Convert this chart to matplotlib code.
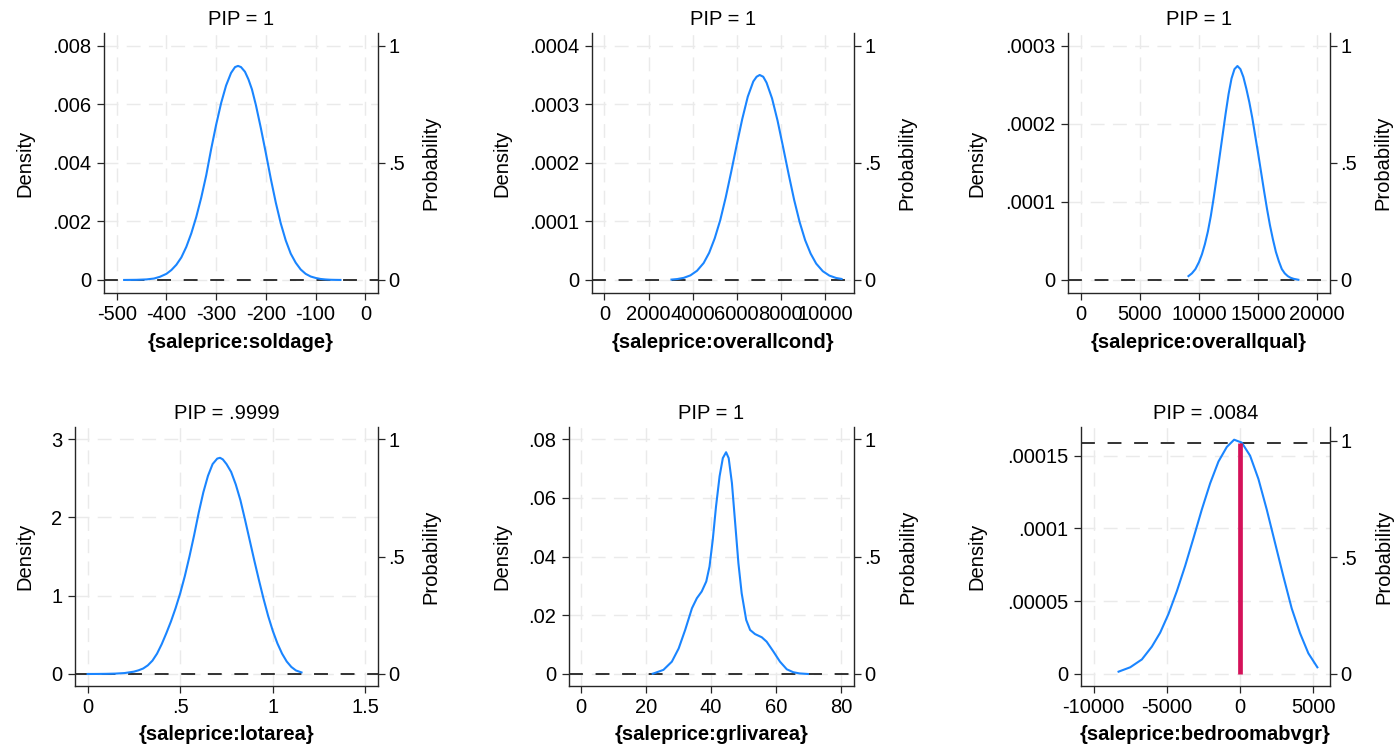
import matplotlib
matplotlib.use("Agg")
import matplotlib.pyplot as plt

plt.rcParams['font.family'] = ['Liberation Sans', 'DejaVu Sans']

W, H = 1394, 749

# ---- data ----
terms = ["soldage", "overallcond", "overallqual", "lotarea", "grlivarea", "bedroomabvgr"]
pip_labels = ["1", "1", "1", ".9999", "1", ".0084"]
pips = [1.0, 1.0, 1.0, 0.9999, 1.0, 0.0084]

soldage_x = [-485, -460, -440, -425, -413, -400, -390, -380, -370, -360, -350, -340,
             -330, -320, -310, -300, -290, -280, -270, -262, -256, -250, -242, -235,
             -228, -220, -210, -200, -190, -180, -170, -160, -150, -140, -130, -120,
             -110, -100, -90, -80, -70, -60, -50]
soldage_d = [0.000001, 0.000006, 0.00002, 0.00005, 0.00011, 0.00021, 0.00034, 0.00052,
             0.00077, 0.00113, 0.00159, 0.00215, 0.00281, 0.00357, 0.00447, 0.0053,
             0.00604, 0.00664, 0.00707, 0.00727, 0.00731, 0.00727, 0.00711, 0.00685,
             0.00651, 0.00597, 0.00518, 0.00433, 0.00345, 0.00264, 0.00193, 0.00135,
             0.0009, 0.00059, 0.00036, 0.00021, 0.00012, 0.00007, 0.000035, 0.000018,
             0.000008, 0.000004, 0.000002]

overallcond_x = [3040, 3300, 3600, 3900, 4200, 4500, 4750, 5000, 5250, 5500, 5750, 6000,
                 6250, 6500, 6750, 6900, 7040, 7200, 7350, 7600, 7850, 8100, 8350, 8600,
                 8850, 9100, 9350, 9600, 9900, 10200, 10500, 10750]
overallcond_d = [0.0000007, 0.0000016, 0.0000037, 0.0000079, 0.0000158, 0.000029,
                 0.0000465, 0.000071, 0.000102, 0.000141, 0.000185, 0.000231, 0.000275,
                 0.000313, 0.000339, 0.000347, 0.00035, 0.000347, 0.000337, 0.00031,
                 0.000272, 0.000227, 0.000181, 0.000137, 0.000099, 0.000068, 0.000045,
                 0.000028, 0.000015, 0.0000075, 0.0000035, 0.0000018]

overallqual_x = [9110, 9400, 9700, 10000, 10250, 10500, 10750, 11000, 11250, 11500, 11750,
                 12000, 12250, 12500, 12750, 13000, 13250, 13500, 13750, 14000, 14250,
                 14500, 14750, 15000, 15250, 15500, 15750, 16000, 16250, 16500, 16750,
                 17000, 17250, 17500, 17750, 18000, 18400]
overallqual_d = [0.000005, 0.0000085, 0.000014, 0.000023, 0.000033, 0.000046, 0.000062,
                 0.000082, 0.000106, 0.000132, 0.000159, 0.000186, 0.000213, 0.000238,
                 0.000258, 0.00027, 0.000274, 0.00027, 0.00026, 0.000245, 0.000228,
                 0.000208, 0.000185, 0.000162, 0.000138, 0.000114, 0.000091, 0.00007,
                 0.000052, 0.000036, 0.000024, 0.000014, 0.0000085, 0.000005, 0.0000028,
                 0.0000015, 0.0000003]

lotarea_x = [0, 0.05, 0.1, 0.15, 0.2, 0.25, 0.275, 0.3, 0.325, 0.35, 0.375, 0.4, 0.425,
             0.45, 0.475, 0.5, 0.525, 0.55, 0.575, 0.6, 0.625, 0.65, 0.675, 0.7, 0.715,
             0.73, 0.75, 0.775, 0.8, 0.825, 0.85, 0.875, 0.9, 0.925, 0.95, 0.975, 1.0,
             1.025, 1.05, 1.075, 1.1, 1.125, 1.155]
lotarea_d = [0.0, 0.0005, 0.002, 0.005, 0.012, 0.03, 0.047, 0.07, 0.11, 0.17, 0.26, 0.38,
             0.52, 0.67, 0.84, 1.03, 1.25, 1.5, 1.77, 2.06, 2.32, 2.53, 2.68, 2.75, 2.76,
             2.74, 2.68, 2.58, 2.42, 2.22, 1.97, 1.71, 1.45, 1.2, 0.96, 0.74, 0.55, 0.39,
             0.26, 0.16, 0.09, 0.045, 0.02]

grlivarea_x = [22.0, 22.3, 25.3, 27.9, 30.0, 32.0, 34.1, 35.6, 37.1, 38.5, 39.5, 40.5,
               41.5, 42.6, 43.6, 44.6, 45.4, 46.4, 47.4, 48.4, 49.4, 50.8, 52.0, 53.5,
               55.6, 57.1, 59.2, 61.2, 63.3, 65.3, 67.2, 69.8]
grlivarea_d = [0.0001, 0.0002, 0.0014, 0.0042, 0.0087, 0.015, 0.0224, 0.0258, 0.0281,
               0.0315, 0.0366, 0.0457, 0.057, 0.0673, 0.0735, 0.0755, 0.0735, 0.065,
               0.0514, 0.0377, 0.0275, 0.0184, 0.015, 0.0136, 0.0125, 0.011, 0.0076,
               0.0042, 0.0016, 0.0006, 0.0002, 0.0]

bedroom_x = [-8295, -7500, -6705, -6023, -5455, -4886, -4318, -3750, -3182, -2614, -2045,
             -1477, -909, -409, 114, 682, 1250, 1818, 2386, 2955, 3523, 4091, 4659, 5273]
bedroom_d = [0.0000016, 0.0000046, 0.00001, 0.0000188, 0.0000284, 0.0000413, 0.0000569,
             0.0000743, 0.0000934, 0.000113, 0.000131, 0.000146, 0.000156, 0.000161,
             0.000159, 0.00015, 0.000134, 0.000113, 0.00009, 0.000067, 0.000045,
             0.000028, 0.0000142, 0.0000046]

xs = [soldage_x, overallcond_x, overallqual_x, lotarea_x, grlivarea_x, bedroom_x]
ds = [soldage_d, overallcond_d, overallqual_d, lotarea_d, grlivarea_d, bedroom_d]

xticks = [[-500, -400, -300, -200, -100, 0],
          [0, 2000, 4000, 6000, 8000, 10000],
          [0, 5000, 10000, 15000, 20000],
          [0, 0.5, 1, 1.5],
          [0, 20, 40, 60, 80],
          [-10000, -5000, 0, 5000]]
xtick_labels = [["-500", "-400", "-300", "-200", "-100", "0"],
                ["0", "2000", "4000", "6000", "8000", "10000"],
                ["0", "5000", "10000", "15000", "20000"],
                ["0", ".5", "1", "1.5"],
                ["0", "20", "40", "60", "80"],
                ["-10000", "-5000", "0", "5000"]]
yticks = [[0, 0.002, 0.004, 0.006, 0.008],
          [0, 0.0001, 0.0002, 0.0003, 0.0004],
          [0, 0.0001, 0.0002, 0.0003],
          [0, 1, 2, 3],
          [0, 0.02, 0.04, 0.06, 0.08],
          [0, 0.00005, 0.0001, 0.00015]]
ytick_labels = [["0", ".002", ".004", ".006", ".008"],
                ["0", ".0001", ".0002", ".0003", ".0004"],
                ["0", ".0001", ".0002", ".0003"],
                ["0", "1", "2", "3"],
                ["0", ".02", ".04", ".06", ".08"],
                ["0", ".00005", ".0001", ".00015"]]
prob_ticks = [0, 0.5, 1]
prob_labels = ["0", ".5", "1"]

# ---- layout (pixels: left, right, top, bottom of each plot region) ----
boxes = [(104, 378, 33, 293), (592, 854, 33, 293), (1068, 1330, 33, 293),
         (75, 378, 427, 686), (569, 854, 427, 686), (1081, 1330, 427, 686)]
xlims = [(-525.5, 25.5), (-562, 11315), (-1075, 21075),
         (-0.068, 1.568), (-3.78, 84.0), (-10859, 6135)]
# density value that sits level with probability 1 on the right axis
prob_scale = [0.008, 0.0004, 0.0003, 3, 0.08, 0.0001603]
plims = [(-0.0555, 1.0542)] * 3 + [(-0.0511, 1.0511)] * 2 + [(-0.0515, 1.0588)]
dens_label_x = [25, 502, 977, 25, 502, 977]
prob_label_x = [431, 907, 1383, 431, 908, 1384]

BLUE = "#1a85ff"
RED = "#d41159"
GRID = "#eaeaea"
AXC = "#262626"
FS = 14.5

fig = plt.figure(figsize=(W / 100, H / 100), dpi=100)
fig.patch.set_facecolor("white")

for i in range(6):
    l, r, t, b = boxes[i]
    sc = prob_scale[i]
    ax = fig.add_axes([l / W, 1 - b / H, (r - l) / W, (b - t) / H])
    ax.set_facecolor("white")

    zero_prob = 1 - pips[i]
    ax.axhline(zero_prob * sc, color="#1a1a1a", lw=1.25, ls=(0, (8, 7.3)), zorder=2)
    ax.plot(xs[i], ds[i], color=BLUE, lw=1.5, zorder=3)
    ax.vlines(0, 0, zero_prob * sc, color=RED, lw=3.4, capstyle="butt", zorder=4)

    ax.set_xlim(xlims[i])
    ax.set_ylim(plims[i][0] * sc, plims[i][1] * sc)
    ax.set_xticks(xticks[i])
    ax.set_xticklabels(xtick_labels[i])
    ax.set_yticks(yticks[i])
    ax.set_yticklabels(ytick_labels[i])
    ax.grid(True, color=GRID, lw=1.0, ls=(0, (10, 6)), zorder=0)
    ax.set_axisbelow(True)
    for s in ["top", "right"]:
        ax.spines[s].set_visible(False)
    for s in ["left", "bottom"]:
        ax.spines[s].set_color(AXC)
        ax.spines[s].set_linewidth(1.0)
    ax.tick_params(axis="both", direction="out", length=5, width=0.9, color=AXC,
                   labelsize=FS, labelcolor="black")
    ax.tick_params(axis="y", pad=4)
    ax.tick_params(axis="x", pad=3.3)

    ax2 = ax.twinx()
    ax2.set_ylim(plims[i])
    ax2.set_yticks(prob_ticks)
    ax2.set_yticklabels(prob_labels)
    for s in ["top", "left", "bottom"]:
        ax2.spines[s].set_visible(False)
    ax2.spines["right"].set_color(AXC)
    ax2.spines["right"].set_linewidth(1.0)
    ax2.tick_params(axis="y", direction="out", length=5, width=0.9, color=AXC,
                    labelsize=FS, pad=2.5)

    cx = (l + r) / 2 / W
    cy = 1 - (t + b) / 2 / H
    fig.text(cx, 1 - (t - 8) / H, "PIP = " + pip_labels[i], ha="center", va="baseline",
             fontsize=FS)
    fig.text(cx, 1 - (b + 54.5) / H, "{saleprice:" + terms[i] + "}", ha="center",
             va="baseline", fontsize=FS, fontweight="bold")
    fig.text(dens_label_x[i] / W, cy, "Density", rotation=90, ha="center", va="center",
             fontsize=FS)
    fig.text(prob_label_x[i] / W, cy, "Probability", rotation=90, ha="center",
             va="center", fontsize=FS)

fig.savefig("out.png", dpi=100)
